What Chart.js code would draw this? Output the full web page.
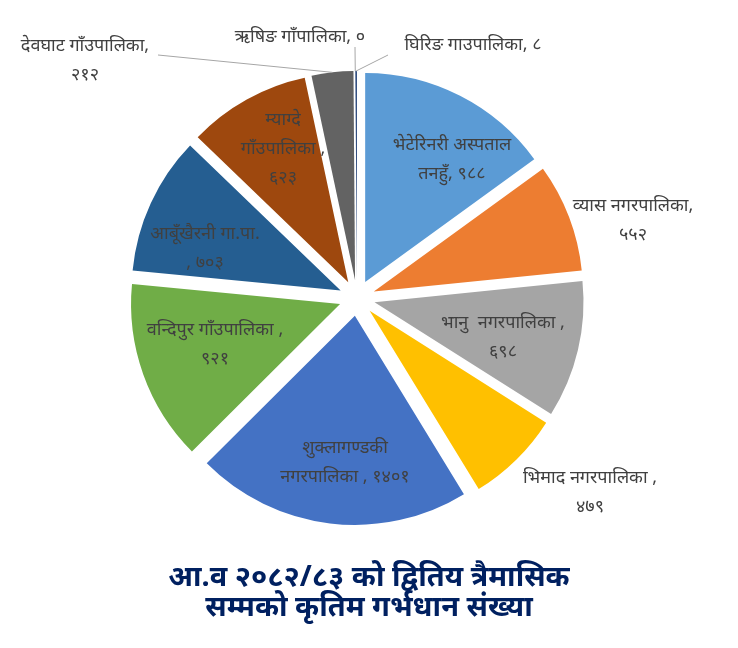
<!DOCTYPE html>
<html>
<head>
<meta charset="utf-8">
<script src="https://cdn.jsdelivr.net/npm/chart.js@4.4.1/dist/chart.umd.min.js"></script>
<style>
    html, body { margin: 0; padding: 0; background: #ffffff; }
    #wrap { width: 738px; height: 648px; }
</style>
</head>
<body>
<div id="wrap"><canvas id="pieChart" width="738" height="648"></canvas></div>
<script>
// Data
const categories = [
    'भेटेरिनरी अस्पताल तनहुँ', 'व्यास नगरपालिका', 'भानु नगरपालिका', 'भिमाद नगरपालिका',
    'शुक्लागण्डकी नगरपालिका', 'वन्दिपुर गाँउपालिका', 'आबूँखैरनी गा.पा.', 'म्याग्दे गाँउपालिका',
    'देवघाट गाँउपालिका', 'ऋषिङ गाँपालिका', 'घिरिङ गाउपालिका'
];
const values = [988, 552, 698, 479, 1401, 921, 703, 623, 212, 0, 8];
const colors = ['#5B9BD5', '#ED7D31', '#A5A5A5', '#FFC000', '#4472C4', '#70AD47',
    '#255E91', '#9E480E', '#636363', '#997300', '#264478'];

// Label text per slice, {v} is replaced by the value in Nepali digits
const labelLines = [
    ['भेटेरिनरी अस्पताल', 'तनहुँ, {v}'],
    ['व्यास नगरपालिका,', '{v}'],
    ['भानु  नगरपालिका ,', '{v}'],
    ['भिमाद नगरपालिका ,', '{v}'],
    ['शुक्लागण्डकी', 'नगरपालिका , {v}'],
    ['वन्दिपुर गाँउपालिका ,', '{v}'],
    ['आबूँखैरनी गा.पा.', ', {v}'],
    ['म्याग्दे', 'गाँउपालिका ,', '{v}'],
    ['देवघाट गाँउपालिका,', '{v}'],
    ['ऋषिङ गाँपालिका, {v}'],
    ['घिरिङ गाउपालिका, {v}']
];
// Label centre relative to the pie centre (pixels)
const labelOffsets = [
    [95, -139], [276, -78], [146, 39], [233, 194], [-12, 164], [-142, 46],
    [-152, -50], [-74, -149], [-272, -238], [-57, -261], [116, -253]
];
// Leader line end relative to the pie centre (null = no leader)
const leaderEnds = [null, null, null, null, null, null, null, null,
    [-199, -243], [-2, -251], [31, -243]];

const titleLines = ['आ.व २०८२/८३ को द्वितिय त्रैमासिक', 'सम्मको कृतिम गर्भधान संख्या'];

const EXPLODE = 18; // how far each slice is pulled out
const FONT = '"Noto Sans", "DejaVu Sans", sans-serif';
const nepDigits = '०१२३४५६७८९';

function toNepali(n) {
    return String(n).split('').map(d => nepDigits[+d] || d).join('');
}

// Pulls every slice out along its middle angle
const explodePlugin = {
    id: 'explode',
    beforeDatasetDraw(chart, args) {
        const ctx = chart.ctx;
        args.meta.data.forEach(arc => {
            const mid = (arc.startAngle + arc.endAngle) / 2;
            ctx.save();
            ctx.translate(Math.cos(mid) * EXPLODE, Math.sin(mid) * EXPLODE);
            arc.draw(ctx);
            ctx.restore();
        });
        return false;
    }
};

// Draws slice labels, leader lines and the title
const labelPlugin = {
    id: 'sliceLabels',
    afterDraw(chart) {
        const ctx = chart.ctx;
        const arcs = chart.getDatasetMeta(0).data;
        const cx = arcs[0].x;
        const cy = arcs[0].y;

        ctx.save();
        // leader lines
        ctx.strokeStyle = '#A6A6A6';
        ctx.lineWidth = 1;
        arcs.forEach((arc, i) => {
            const end = leaderEnds[i];
            if (!end) return;
            const mid = (arc.startAngle + arc.endAngle) / 2;
            const r = arc.outerRadius + EXPLODE;
            ctx.beginPath();
            ctx.moveTo(cx + Math.cos(mid) * r, cy + Math.sin(mid) * r);
            ctx.lineTo(cx + end[0], cy + end[1]);
            ctx.stroke();
        });

        // labels
        ctx.fillStyle = '#404040';
        ctx.font = '18px ' + FONT;
        ctx.textAlign = 'center';
        ctx.textBaseline = 'middle';
        const lh = 29;
        labelLines.forEach((lines, i) => {
            const x = cx + labelOffsets[i][0];
            const y0 = cy + labelOffsets[i][1] - (lines.length - 1) * lh / 2;
            lines.forEach((t, k) => {
                ctx.fillText(t.replace('{v}', toNepali(values[i])), x, y0 + k * lh);
            });
        });

        // title
        ctx.fillStyle = '#002060';
        ctx.font = 'bold 29px ' + FONT;
        ctx.fillText(titleLines[0], chart.width / 2, 578);
        ctx.fillText(titleLines[1], chart.width / 2, 608);
        ctx.restore();
    }
};

function createChart() {
    const ctx = document.getElementById('pieChart').getContext('2d');
    new Chart(ctx, {
        type: 'pie',
        data: {
            labels: categories,
            datasets: [{
                data: values,
                backgroundColor: colors,
                borderWidth: 0
            }]
        },
        options: {
            responsive: false,
            animation: false,
            layout: {
                padding: { left: 148, right: 172, top: 89, bottom: 141 }
            },
            plugins: {
                legend: { display: false },
                tooltip: { enabled: false }
            }
        },
        plugins: [explodePlugin, labelPlugin]
    });
}

document.addEventListener('DOMContentLoaded', createChart);
</script>
</body>
</html>
